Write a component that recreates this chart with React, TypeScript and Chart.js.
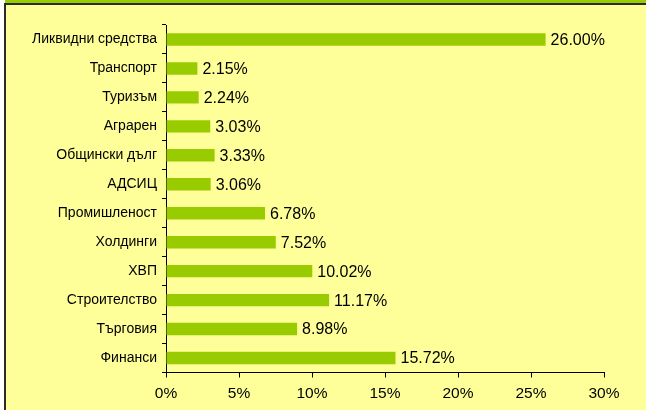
import React, { useEffect, useRef } from "react";
import { Chart, registerables } from "chart.js";

Chart.register(...registerables);

const categories: string[] = [
  "Ликвидни средства",
  "Транспорт",
  "Туризъм",
  "Аграрен",
  "Общински дълг",
  "АДСИЦ",
  "Промишленост",
  "Холдинги",
  "ХВП",
  "Строителство",
  "Търговия",
  "Финанси",
];

const values: number[] = [26.0, 2.15, 2.24, 3.03, 3.33, 3.06, 6.78, 7.52, 10.02, 11.17, 8.98, 15.72];

const xTicks: number[] = [0, 5, 10, 15, 20, 25, 30];

const FONT = "Arial, 'Liberation Sans', sans-serif";
const BAR_COLOR = "#99CC00";
const BG_COLOR = "#FFFF99";

export default function App() {
  const ref = useRef<HTMLCanvasElement | null>(null);

  useEffect(() => {
    const canvas = ref.current;
    if (!canvas) return;

    const bgPlugin = {
      id: "bgFrame",
      beforeDraw(chart: any) {
        const ctx = chart.ctx;
        const w = chart.width;
        const h = chart.height;
        ctx.save();
        ctx.fillStyle = "#FFFFFF";
        ctx.fillRect(0, 0, w, h);
        ctx.fillStyle = BG_COLOR;
        ctx.fillRect(4, 3, w - 4, h - 3);
        ctx.fillStyle = BAR_COLOR;
        ctx.fillRect(5, 0, w - 5, 3);
        ctx.fillStyle = "#2b2b2b";
        ctx.fillRect(4, 3, w - 4, 2);
        ctx.fillRect(4, 3, 2, h - 3);
        ctx.restore();
      },
    };

    const labelPlugin = {
      id: "valueLabels",
      afterDatasetsDraw(chart: any) {
        const ctx = chart.ctx;
        const meta = chart.getDatasetMeta(0);
        ctx.save();
        ctx.font = `16px ${FONT}`;
        ctx.fillStyle = "#000000";
        ctx.textAlign = "left";
        ctx.textBaseline = "middle";
        meta.data.forEach((bar: any, i: number) => {
          ctx.fillText(values[i].toFixed(2) + "%", bar.x + 5, bar.y + 1);
        });
        ctx.restore();
      },
    };

    const chart = new Chart(canvas, {
      type: "bar",
      data: {
        labels: categories,
        datasets: [
          {
            data: values,
            backgroundColor: BAR_COLOR,
            borderWidth: 0,
            categoryPercentage: 1,
            barPercentage: 0.43,
          },
        ],
      },
      options: {
        indexAxis: "y",
        animation: false,
        responsive: false,
        devicePixelRatio: 1,
        layout: { padding: { top: 25, right: 42, left: 0, bottom: 0 } },
        plugins: {
          legend: { display: false },
          tooltip: { enabled: false },
        },
        scales: {
          x: {
            type: "linear",
            min: 0,
            max: 30,
            afterBuildTicks(scale: any) {
              scale.ticks = xTicks.map((v) => ({ value: v }));
            },
            afterFit(scale: any) {
              scale.height = 37.5;
            },
            border: { display: true, color: "#000000", width: 1 },
            grid: {
              drawOnChartArea: false,
              drawTicks: true,
              tickLength: 5,
              color: "#000000",
            },
            ticks: {
              color: "#000000",
              font: { family: FONT, size: 15.5 },
              padding: 7,
              callback: (v: any) => v + "%",
            },
          },
          y: {
            type: "category",
            afterFit(scale: any) {
              scale.width = 166;
            },
            border: { display: true, color: "#000000", width: 1 },
            grid: {
              offset: true,
              drawOnChartArea: false,
              drawTicks: true,
              tickLength: 4,
              color: "#000000",
            },
            ticks: {
              color: "#000000",
              font: { family: FONT, size: 14 },
              padding: 5,
            },
          },
        },
      },
      plugins: [bgPlugin, labelPlugin],
    });

    return () => chart.destroy();
  }, []);

  return (
    <div style={{ position: "fixed", left: 0, top: 0, width: 646, height: 410 }}>
      <canvas ref={ref} width={646} height={410} style={{ display: "block" }} />
    </div>
  );
}
